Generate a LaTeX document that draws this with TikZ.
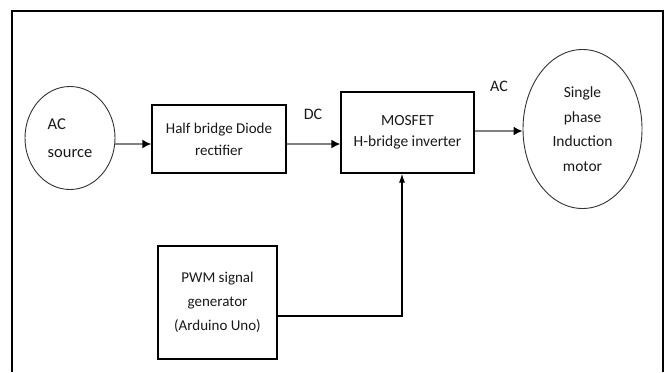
\documentclass[tikz,border=0pt]{standalone}
\usepackage{fontspec}
\setmainfont{Carlito}
\usetikzlibrary{shapes.geometric,arrows.meta}
\tikzset{
  blk/.style={draw=black, line width=1.2pt, inner sep=0pt, text=black!90, align=center},
  oval/.style={draw=black!80, line width=0.9pt, ellipse, inner sep=0pt, text=black!90},
  flow/.style={draw=black!50, line width=2.8pt, -{Latex[length=9pt,width=9pt,color=black]}},
  sig/.style={draw=black, line width=1.2pt, -{Latex[length=9pt,width=6pt]}},
  lbl/.style={text=black!90, font={\fontsize{16}{18}\selectfont}}
}
\begin{document}
\begin{tikzpicture}[x=1pt,y=-1pt]
\useasboundingbox[fill=white] (0,0) rectangle (666,372);
% frame
\draw[line width=1.6pt] (12,372) -- (12,11) -- (663,11) -- (663,372);
% nodes
\node[oval, minimum width=90pt, minimum height=103pt, align=left,
      font={\fontsize{16.5}{28}\selectfont}] (src) at (70,138) {AC\\source};
\node[blk, minimum width=134pt, minimum height=68pt,
      font={\fontsize{15}{22}\selectfont}] (rect) at (219,139) {Half bridge Diode\\rectifier};
\node[blk, minimum width=133pt, minimum height=81pt,
      font={\fontsize{15.5}{21}\selectfont}] (inv) at (407.5,132.5) {MOSFET\\H-bridge inverter};
\node[oval, minimum width=119pt, minimum height=159pt, align=center,
      font={\fontsize{15.5}{24.5}\selectfont}] (mot) at (582.5,129) {Single\\phase\\Induction\\motor};
\node[blk, minimum width=119pt, minimum height=113pt,
      font={\fontsize{15}{24}\selectfont}] (pwm) at (217.5,302.5) {PWM signal\\generator\\(Arduino Uno)};
% labels
\node[lbl] (dc) at (313,114) {DC};
\node[lbl] (ac) at (499,86) {AC};
% connectors
\draw[flow] (src.east |- 0,144) -- (rect.west |- 0,144);
\draw[flow] (rect.east |- 0,144) -- (inv.west |- 0,144);
\draw[flow] (inv.east |- 0,131) -- (mot.west |- 0,131);
\draw[sig] (pwm.east |- 0,316) -| (inv.south -| 402,0);
\end{tikzpicture}
\end{document}
